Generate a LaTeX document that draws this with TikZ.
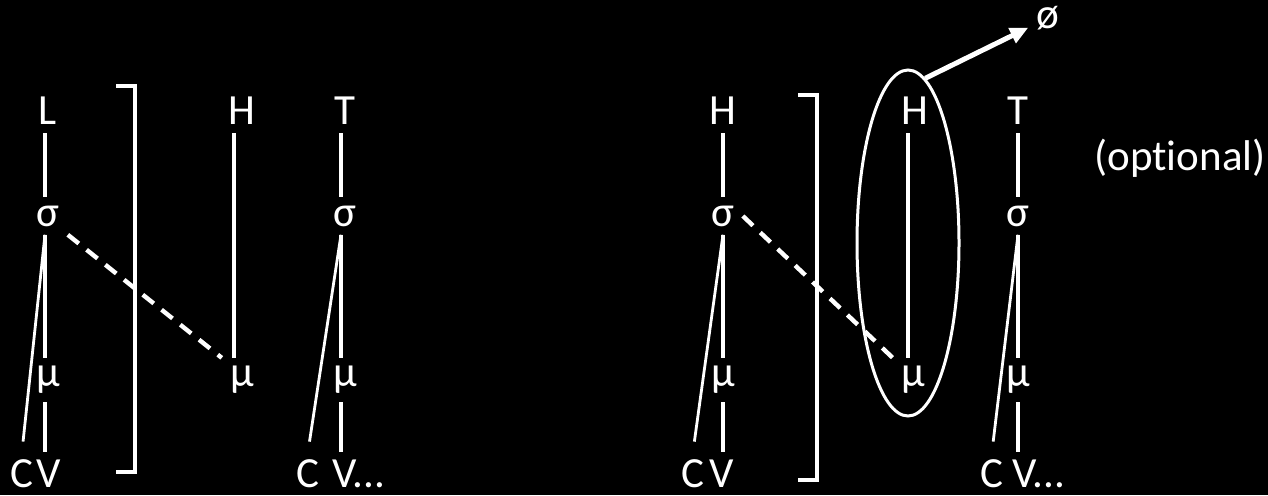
\documentclass[tikz,border=0pt]{standalone}
\usepackage{fontspec}
\setmainfont{Carlito}[Ligatures=CommonOff]
\usetikzlibrary{arrows.meta, shapes.geometric}

\tikzset{
  seg/.style={text=white, inner sep=4pt, font=\fontsize{21.5}{25}\selectfont},
  tier/.style={draw=white, line width=2.2pt},
  slant/.style={draw=white, line width=1.4pt, shorten >=5pt},
  assoc/.style={draw=white, line width=2.2pt, dash pattern=on 7pt off 5pt},
  brack/.style={draw=white, line width=1.8pt},
}

\begin{document}
\begin{tikzpicture}[x=0.5pt,y=-0.5pt]
\useasboundingbox (0,0) rectangle (1268,495);
\fill[black] (0,0) rectangle (1268,495);

% syllable columns: name/line x/label shift/tone/C x/V x/V text
\foreach \nm/\lx/\dx/\tone/\cx/\vx/\vtxt in {a/45/3/L/22/48/V, b/341/4/T/308/344/V{.}{.}{.}, c/723/0/H/693/721/V, d/1018/0/T/992/1024/V{.}{.}{.}} {
  \coordinate (x\nm) at (\lx,0);
  \node[seg] (t\nm) at (\lx+\dx,111) {\tone};
  \node[seg] (s\nm) at (\lx+\dx,216) {σ};
  \node[seg] (m\nm) at (\lx+\dx,380) {µ};
  \node[seg] (c\nm) at (\cx,474) {C};
  \node[seg, anchor=west] (v\nm) at (\vx-20,474) {\vtxt};
  \draw[tier] (t\nm.south -| x\nm) -- (s\nm.north -| x\nm)
              (s\nm.south -| x\nm) -- (m\nm.north -| x\nm)
              (m\nm.south -| x\nm) -- (v\nm.north -| x\nm);
  \draw[slant] (s\nm.south -| x\nm) -- (c\nm.north);
}

% floating H tones
\coordinate (xh) at (234,0);
\node[seg] (th) at (242,111) {H};
\node[seg] (mh) at (242,380) {µ};
\draw[tier] (th.south -| xh) -- (mh.north -| xh);
\draw[assoc] (sa.south east) -- (mh.north west);

\coordinate (xe) at (908,0);
\node[seg] (te) at (915,111) {H};
\node[seg] (me) at (913,380) {µ};
\draw[tier] (te.south -| xe) -- (me.north -| xe);
\draw[assoc] (sc.east) -- (me.north west);

% brackets
\draw[brack] (116,86) -- (135,86) -- (135,472) -- (116,472);
\draw[brack] (798,95) -- (817,95) -- (817,480) -- (798,480);

% deletion
\node[draw=white, line width=1.5pt, ellipse, minimum width=51pt, minimum height=173pt, inner sep=0] (oval) at (908,243) {};
\node[seg] (null) at (1048,18) {ø};
\draw[white, line width=2.5pt, -{Triangle[length=9pt,width=8pt]}] (oval.84) -- (null);
\node[seg] (opt) at (1180,158) {(optional)};

\end{tikzpicture}
\end{document}
